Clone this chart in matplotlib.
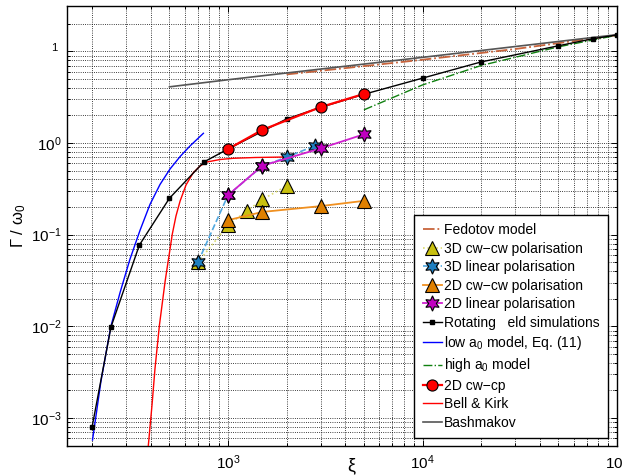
import numpy as np
import matplotlib
matplotlib.use('Agg')
import matplotlib.pyplot as plt
from matplotlib.ticker import FixedLocator, NullFormatter, FixedFormatter
import matplotlib.transforms as mtransforms

plt.rcParams['font.family'] = ['Liberation Sans', 'DejaVu Sans']
plt.rcParams['mathtext.fontset'] = 'custom'
plt.rcParams['mathtext.rm'] = 'Liberation Sans'
plt.rcParams['mathtext.it'] = 'Liberation Sans:italic'
plt.rcParams['mathtext.default'] = 'regular'

# ---------------- data ----------------
fedotov_x = [2000, 5000, 10000, 30000, 100000]
fedotov_y = [5.6, 6.9, 8.1, 10.6, 15.0]

cw3d_x = [700, 1000, 1250, 1500, 2000]
cw3d_y = [0.05, 0.127, 0.182, 0.242, 0.34]

lin3d_x = [700, 1000, 1500, 2000, 2800]
lin3d_y = [0.05, 0.27, 0.56, 0.70, 0.935]

cw2d_x = [1000, 1500, 3000, 5000]
cw2d_y = [0.144, 0.177, 0.205, 0.234]

lin2d_x = [1000, 1500, 3000, 5000]
lin2d_y = [0.27, 0.565, 0.875, 1.245]

rot_x = [200, 250, 350, 500, 750, 1000, 2000, 3000, 5000, 10000, 20000, 50000, 75000, 100000]
rot_y = [8.0e-4, 0.0098, 0.077, 0.25, 0.62, 0.86, 1.83, 2.45, 3.4, 5.1, 7.66, 11.5, 13.7, 15.1]

low_x = [201, 222, 249.5, 278.5, 313, 353, 397, 447, 503, 567, 638, 747]
low_y = [5.75e-4, 2.5e-3, 9.9e-3, 0.0234, 0.0539, 0.112, 0.214, 0.353, 0.520, 0.712, 0.930, 1.276]

high_x = [5000, 10000, 20000, 50000, 100000]
high_y = [2.3, 4.3, 7.0, 11.2, 15.0]

cwcp_x = [1000, 1500, 3000, 5000]
cwcp_y = [0.86, 1.39, 2.47, 3.43]

bk_x = [389, 407, 421, 444, 475, 517, 540, 567, 608, 661, 718, 780, 910, 1061, 1377, 1918]
bk_y = [4.95e-4, 1.42e-3, 3.43e-3, 0.01035, 0.0312, 0.1017, 0.160, 0.233, 0.348, 0.471,
        0.561, 0.621, 0.661, 0.681, 0.695, 0.703]

bash_x = [500, 1000, 10000, 100000]
bash_y = [4.1, 4.9, 8.6, 15.2]

labels = ['Fedotov model', '3D cw\u2212cw polarisation', '3D linear polarisation',
          '2D cw\u2212cw polarisation', '2D linear polarisation',
          'Rotating   eld simulations', 'low a$_0$ model, Eq. (11)',
          'high a$_0$ model', '2D cw\u2212cp', 'Bell & Kirk', 'Bashmakov']

ytick_vals = [1e-3, 1e-2, 1e-1, 1e0]
ytick_labels = ['$10^{-3}$', '$10^{-2}$', '$10^{-1}$', '$10^{0}$']
xtick_vals = [1e3, 1e4, 1e5]
xtick_labels = ['$10^{3}$', '$10^{4}$', '$10^{5}$']

# ---------------- figure ----------------
fig = plt.figure(figsize=(6.22, 4.76), dpi=100)
ax = fig.add_axes([67/622, 30/476, 550/622, 440/476])
ax.set_xscale('log')
ax.set_yscale('log')
ax.set_xlim(148.6, 1e5)
ax.set_ylim(10**-3.305, 10**1.4945)

h = []
h += ax.plot(fedotov_x, fedotov_y, '-.', color='#c8643c', lw=1.3, zorder=3)
h += ax.plot(cw3d_x, cw3d_y, ':', color='#dcdc70', lw=1.2, marker='^', ms=10,
             mfc='#c8c010', mec='k', mew=0.8, zorder=5)
h += ax.plot(lin3d_x, lin3d_y, '--', color='#50a8e0', lw=1.2, marker=(6, 1, 0), ms=11,
             mfc='#1f7fc0', mec='k', mew=0.8, zorder=6)
h += ax.plot(cw2d_x, cw2d_y, '-', color='#f09020', lw=1.3, marker='^', ms=10,
             mfc='#e08000', mec='k', mew=0.8, zorder=5.5)
h += ax.plot(lin2d_x, lin2d_y, '-', color='#d020d0', lw=1.3, marker=(6, 1, 0), ms=11,
             mfc='#c000c0', mec='k', mew=0.8, zorder=6.5)
h += ax.plot(rot_x, rot_y, '-', color='k', lw=1.0, marker='s', ms=2.5, zorder=4)
h += ax.plot(low_x, low_y, '-', color='#0000ff', lw=1.0, zorder=3.5)
h += ax.plot(high_x, high_y, '-.', color='#108010', lw=1.0, zorder=3)
h += ax.plot(cwcp_x, cwcp_y, '-', color='#ff0000', lw=1.6, marker='o', ms=8,
             mfc='#ff0000', mec='k', mew=0.8, zorder=7)
h += ax.plot(bk_x, bk_y, '-', color='#ff0000', lw=1.0, zorder=3.2)
h += ax.plot(bash_x, bash_y, '-', color='#555555', lw=1.2, zorder=3.1)

# ticks & grid
ax.xaxis.set_major_locator(FixedLocator(xtick_vals))
ax.xaxis.set_major_formatter(FixedFormatter(xtick_labels))
xminor = [k * 10.0**d for d in range(2, 5) for k in range(2, 10)]
ax.xaxis.set_minor_locator(FixedLocator(xminor))
ax.xaxis.set_minor_formatter(NullFormatter())

ax.yaxis.set_major_locator(FixedLocator(ytick_vals + [10.0]))
ax.yaxis.set_major_formatter(FixedFormatter(ytick_labels + ['']))
yminor = [k * 10.0**d for d in range(-4, 2) for k in range(2, 10) if k * 10.0**d < 25]
ax.yaxis.set_minor_locator(FixedLocator(yminor))
ax.yaxis.set_minor_formatter(NullFormatter())

ax.grid(True, which='both', ls=':', color='k', lw=0.6)
ax.tick_params(which='both', direction='in', top=True, right=True, colors='k',
               labelsize=11, width=0.7)
ax.tick_params(which='major', length=4)
ax.tick_params(axis='y', which='major', pad=4)
ax.tick_params(axis='x', which='major', pad=5)
ax.tick_params(which='minor', length=2.5)
for s in ax.spines.values():
    s.set_linewidth(1.0)

trans = mtransforms.blended_transform_factory(ax.transAxes, ax.transData)
ax.text(-0.018, 10.8, '1', transform=trans, ha='right', va='center', fontsize=8)

fig.text(19/622, 1 - 226/476, r'$\Gamma\ /\ \omega_0$', rotation=90,
         ha='center', va='center', fontsize=12)
fig.text(352/622, 1 - 467/476, r'$\xi$', ha='center', va='center', fontsize=13)

leg = ax.legend(h, labels, loc='lower right', bbox_to_anchor=(0.984, 0.018),
                borderaxespad=0, fontsize=10, numpoints=1, handlelength=1.4,
                handletextpad=0.15, labelspacing=0.32, borderpad=0.6,
                fancybox=False, framealpha=1, edgecolor='k')
leg.get_frame().set_linewidth(1.0)
leg.set_zorder(10)

fig.savefig('out.png', dpi=100)
